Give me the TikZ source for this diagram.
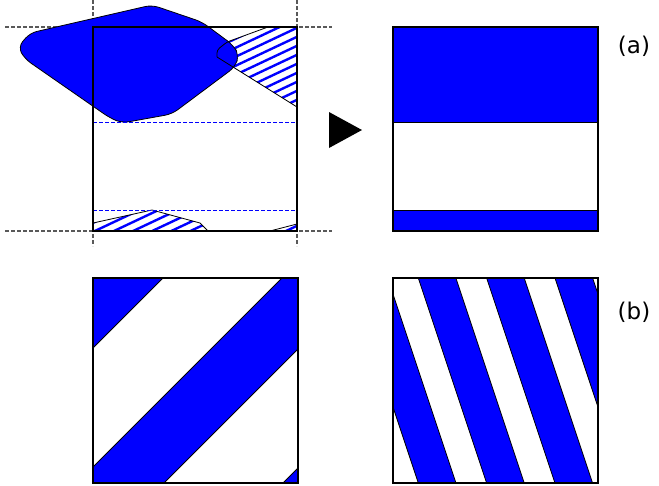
\documentclass[tikz,border=0pt]{standalone}
\usepackage{fontspec}
\setmainfont{DejaVu Sans}
\usetikzlibrary{positioning}

\begin{document}
\begin{tikzpicture}[
  x=1pt,y=-1pt,
  cell/.style={draw=black,line width=1.3pt},
  guide/.style={draw=black!65,dash pattern=on 3.5pt off 2.5pt,line width=1.2pt},
  bandline/.style={draw=blue,dash pattern=on 3.5pt off 2.5pt,line width=0.9pt},
  solidpart/.style={fill=blue,draw=black,line width=0.8pt},
  hatch/.style={draw=blue,line width=2.4pt},
  outline/.style={draw=black,line width=0.8pt},
  tag/.style={font=\fontsize{23}{27}\selectfont}
]
  \useasboundingbox (0,0) rectangle (659,485);

  % guides of the unit cell
  \draw[guide] (5,27) -- (332,27);
  \draw[guide] (5,231) -- (332,231);
  \draw[guide] (93,0) -- (93,246);
  \draw[guide] (297,0) -- (297,246);

  % wrapped pieces, hatched
  \begin{scope}
    \clip[rounded corners=3] (217,57) -- (217,50) -- (227,42) -- (268,27) -- (297,27) -- (297,107) -- cycle;
    \foreach \c in {4,13,...,454} \draw[hatch] (80,\c) -- ++(240,-113);
  \end{scope}
  \begin{scope}
    \clip (93,223) -- (152,210) -- (200,223) -- (208,231) -- (93,231) -- cycle;
    \foreach \c in {4,13,...,454} \draw[hatch] (80,\c) -- ++(240,-113);
  \end{scope}
  \begin{scope}
    \clip (270,231) -- (297,224) -- (297,231) -- cycle;
    \foreach \c in {4,13,...,454} \draw[hatch] (80,\c) -- ++(240,-113);
  \end{scope}

  % the polygon
  \draw[solidpart,rounded corners=7] (152,5) -- (202,22) -- (233,45) -- (239,55) -- (235,67)
    -- (172,114) -- (122,123) -- (110,118) -- (25,59) -- (18,47) -- (30,33) -- cycle;

  \draw[outline,rounded corners=3] (217,57) -- (217,50) -- (227,42) -- (268,27);
  \draw[outline] (217,57) -- (297,107);
  \draw[outline] (93,223) -- (152,210) -- (200,223) -- (208,231);
  \draw[outline] (270,231) -- (297,224);

  \draw[bandline] (93,122) -- (297,122);
  \draw[bandline] (93,210) -- (297,210);
  \draw[cell] (93,27) rectangle (297,231);

  % arrow
  \fill (329,112) -- (362,130) -- (329,148) -- cycle;

  % (a) projection
  \draw[solidpart] (393,27) rectangle (598,122);
  \draw[solidpart] (393,210) rectangle (598,231);
  \draw[cell] (393,27) rectangle (598,231);
  \node[tag] (lbla) at (634,46) {(a)};

  % (b) diagonal stripes
  \begin{scope}
    \clip (93,278) rectangle (298,483);
    \foreach \a in {354,560,766}
      \draw[solidpart] (60,{\a-60}) -- (340,{\a-340}) -- (340,{\a+87-340}) -- (60,{\a+87-60}) -- cycle;
  \end{scope}
  \draw[cell] (93,278) rectangle (298,483);

  % (b) steep stripes
  \begin{scope}
    \clip (393,278) rectangle (598,483);
    \foreach \x in {350,418.3,486.6,555}
      \draw[solidpart] ({\x-6},260) -- ({\x+74},500) -- ({\x+111.6},500) -- ({\x+31.6},260) -- cycle;
  \end{scope}
  \draw[cell] (393,278) rectangle (598,483);
  \node[tag] (lblb) at (634,312) {(b)};
\end{tikzpicture}
\end{document}
